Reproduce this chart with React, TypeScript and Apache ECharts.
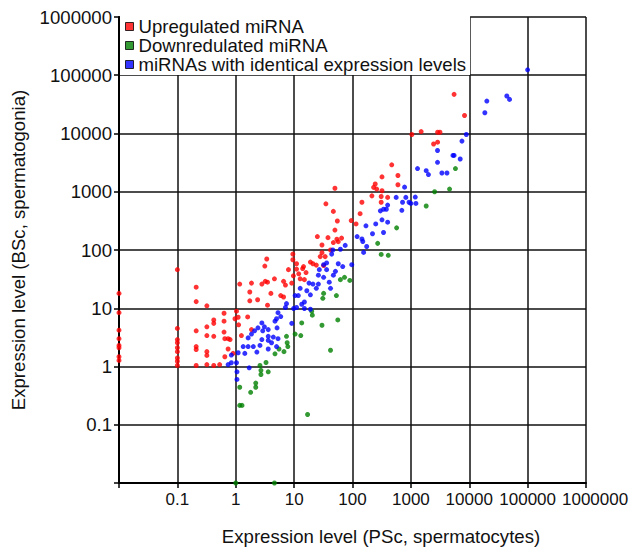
import React, { useEffect, useRef } from "react";
import * as echarts from "echarts";

const seriesNames = [
  "Upregulated miRNA",
  "Downredulated miRNA",
  "miRNAs with identical expression levels",
];
const seriesColors = ["#ff0000", "#008000", "#0000ff"];

const xTitle = "Expression level (PSc, spermatocytes)";
const yTitle = "Expression level (BSc, spermatogonia)";

const upregulated: [number, number][] = [
  [0.01, 18], [0.01, 8.4], [0.01, 4.2], [0.01, 3.0], [0.01, 2.3], [0.01, 2.1], [0.01, 1.47], [0.01, 1.27],
  [0.1, 46], [0.1, 4.5], [0.1, 2.9], [0.1, 2.56], [0.1, 2.1], [0.1, 1.8], [0.1, 1.4], [0.1, 1.23], [0.1, 1.04],
  [0.21, 23], [0.21, 13], [0.32, 11], [0.21, 4.1], [0.21, 2.2], [0.21, 1.96], [0.21, 1.04], [0.32, 4.8],
  [0.32, 3.4], [0.32, 1.8], [0.32, 1.55], [0.32, 1.08], [0.42, 6.3], [0.42, 5.5], [0.42, 3.3], [0.42, 1.04],
  [0.53, 1.08], [0.63, 8.2], [0.63, 6.0], [0.63, 3.9], [0.65, 3.0], [0.74, 3.0], [0.65, 1.47], [0.74, 2.0],
  [0.9, 1.68], [0.97, 6.6],
  [1.03, 8.9], [1.1, 7.0], [1.12, 5.2], [1.6, 7.1], [1.86, 4.3], [1.25, 3.4], [0.8, 2.9],
  [1.17, 26], [1.86, 27], [2.8, 26], [3.2, 29], [3.5, 28], [4.6, 32], [6.6, 29], [7.1, 25], [9.1, 27],
  [1.74, 19], [1.74, 13.4], [2.37, 14], [3.5, 11.3], [5.9, 16.5], [6.6, 15.6], [4.0, 18],
  [3.4, 70], [3.15, 53], [8, 46],
  [25, 170], [38, 163], [54, 153], [50, 220], [65, 160], [47, 134], [57, 139], [30, 122], [42, 100],
  [30, 90], [28, 77], [34, 77], [9.5, 85], [9.5, 68], [11, 58], [19, 62], [21, 58], [24, 55], [14.5, 52],
  [11, 47], [14, 48], [16, 41], [12, 39], [12.7, 32], [9.7, 36], [15, 31], [32, 54],
  [50, 1150], [35, 620], [47, 460], [55, 315], [115, 280], [95, 320], [135, 420], [145, 660], [215, 850],
  [310, 830], [400, 800], [310, 660], [230, 1190], [260, 1110], [320, 1040], [245, 1360], [600, 1320],
  [320, 1800], [600, 1900], [470, 2900],
  [1040, 9600], [1500, 10800], [2870, 10500], [3150, 10500], [2450, 6600], [2870, 7100], [8300, 20400],
  [5500, 47000],
];

const downregulated: [number, number][] = [
  [1.0, 0.01], [4.6, 0.01], [17, 0.15], [1.17, 0.215], [1.28, 0.215], [1.17, 0.44], [1.8, 0.36],
  [2.2, 0.44], [2.2, 0.52], [2.7, 0.73], [2.7, 0.86], [3.6, 0.81], [2.6, 1.04], [3.3, 1.17], [4.7, 1.65],
  [6.7, 1.8], [5.5, 2.0], [7.8, 2.2], [7.6, 2.56], [7.4, 3.3], [10.4, 3.6], [13, 3.4], [42, 1.9],
  [30, 5.1], [13.5, 5.6], [56, 6.3], [20, 8.9], [20.5, 7.6], [31, 14.8], [32, 18], [53, 16.5],
  [62, 31], [73, 34], [90, 30], [270, 130], [310, 84], [410, 81], [570, 240], [1830, 570],
  [2550, 1000], [4600, 1110], [5800, 2500],
];

const identical: [number, number][] = [
  [1.05, 0.81], [1.05, 0.6], [1.7, 0.95], [0.84, 1.57], [0.74, 1.08], [0.84, 1.16], [1.03, 1.16],
  [1.1, 1.72], [1.43, 1.68], [1.34, 2.2], [1.63, 2.2], [2.3, 1.77], [3.6, 2.0], [4.1, 2.56], [5.3, 3.0],
  [2.0, 2.2], [2.6, 2.3], [5.0, 2.2], [1.63, 3.1], [2.8, 2.9], [3.6, 2.8], [1.86, 3.6], [3.6, 3.3],
  [4.4, 3.2], [2.1, 4.1], [2.9, 4.1], [2.4, 4.6], [3.6, 4.3], [2.8, 5.6], [3.1, 4.8], [5.1, 4.6],
  [9.1, 5.5], [5.0, 6.6], [4.7, 6.0], [5.9, 7.2], [5.3, 8.4], [7.1, 10.3], [7.4, 12], [9.8, 9.9],
  [11, 10.3], [15, 9.9], [19, 9.6], [13.5, 11.7], [15, 12.8], [10.4, 16.5], [11.8, 16.5], [19, 17],
  [16.5, 20], [24, 22], [12.7, 22],
  [42, 22], [18, 27], [21, 26], [26, 26], [40, 28], [32, 34], [26, 37], [47, 37], [51, 43], [27, 46],
  [36, 46], [32, 56], [97, 56], [68, 52], [57, 58], [36, 60], [44, 85], [46, 100], [62, 103], [75, 120],
  [155, 91], [175, 115], [150, 140], [145, 155], [120, 170], [220, 190], [340, 200], [170, 260],
  [250, 280], [400, 300], [320, 330], [300, 470], [340, 500], [380, 500], [700, 480], [400, 590],
  [720, 660], [930, 660], [560, 800], [820, 800], [780, 1200], [1000, 630], [1220, 630], [1190, 810],
  [1300, 2500], [1830, 2300], [2000, 1970], [3400, 2100], [4150, 2100], [2860, 3200], [7000, 3650],
  [5260, 4200], [5500, 4200], [2860, 5100], [7500, 7400], [8900, 9600], [18500, 22700], [20000, 36000],
  [44000, 44000], [49000, 38500], [100000, 124000],
];

const axisMin = 0.01;
const axisMax = 1000000;

const FONT = "'Liberation Sans', Arial, Helvetica, sans-serif";
const FS = 18.6;
const XFS = 17;

function tickLabel(v: number): string {
  if (v < 0.05) return "";
  if (v < 1) return String(Math.round(v * 10) / 10);
  return String(Math.round(v));
}

export default function App() {
  const ref = useRef<HTMLDivElement>(null);

  useEffect(() => {
    if (!ref.current) return;
    const chart = echarts.init(ref.current, undefined, { renderer: "svg" });

    const axisCommon = (fs: number, margin: number, shiftMax: boolean) => ({
      type: "log" as const,
      logBase: 10,
      min: axisMin,
      max: axisMax,
      splitNumber: 8,
      axisLine: { show: true, lineStyle: { color: "#000", width: 2 } },
      axisTick: { show: true, inside: false, length: 5, lineStyle: { color: "#000", width: 1.5 } },
      minorTick: { show: false },
      splitLine: { show: true, lineStyle: { color: "#111", width: 1.5 } },
      axisLabel: {
        color: "#111",
        fontSize: fs,
        fontFamily: FONT,
        margin,
        showMinLabel: true,
        showMaxLabel: true,
        hideOverlap: false,
        formatter: (v: number) => {
          const s = tickLabel(v);
          if (shiftMax && v > 500000) return "{m|" + s + "}";
          return s;
        },
        rich: {
          m: {
            width: 48,
            align: "left",
            fontSize: fs,
            fontFamily: FONT,
            color: "#111",
          },
        },
      },
    });

    const datasets = [upregulated, downregulated, identical];

    chart.setOption({
      animation: false,
      backgroundColor: "#fff",
      grid: { left: 119, right: 54, top: 17, bottom: 64 },
      xAxis: { ...axisCommon(XFS, 8, true) },
      yAxis: { ...axisCommon(FS, 7, false) },
      legend: {
        orient: "vertical",
        left: 120,
        top: 16,
        padding: [1, 4, 1, 5],
        itemGap: 0,
        itemWidth: 8,
        itemHeight: 8,
        icon: "rect",
        backgroundColor: "#fff",
        itemStyle: { borderColor: "#000", borderWidth: 1 },
        textStyle: { fontSize: FS, fontFamily: FONT, color: "#111", lineHeight: 19 },
        data: [seriesNames[0], seriesNames[1], seriesNames[2]],
      },
      graphic: [
        {
          type: "text",
          x: 381,
          y: 536,
          style: {
            text: xTitle,
            fontSize: FS,
            fontFamily: FONT,
            fill: "#111",
            align: "center",
            verticalAlign: "middle",
            textAlign: "center",
            textVerticalAlign: "middle",
          },
        },
        {
          type: "text",
          x: 18,
          y: 250,
          rotation: Math.PI / 2,
          style: {
            text: yTitle,
            fontSize: FS,
            fontFamily: FONT,
            fill: "#111",
            align: "center",
            verticalAlign: "middle",
            textAlign: "center",
            textVerticalAlign: "middle",
          },
        },
      ],
      series: datasets.map((d, i) => ({
        name: seriesNames[i],
        type: "scatter",
        data: d,
        symbol: "circle",
        symbolSize: 5,
        clip: false,
        itemStyle: { color: seriesColors[i] },
        z: 3,
      })),
    });

    return () => chart.dispose();
  }, []);

  return (
    <div
      ref={ref}
      style={{ position: "fixed", left: 0, top: 0, width: 640, height: 547, background: "#fff" }}
    />
  );
}
